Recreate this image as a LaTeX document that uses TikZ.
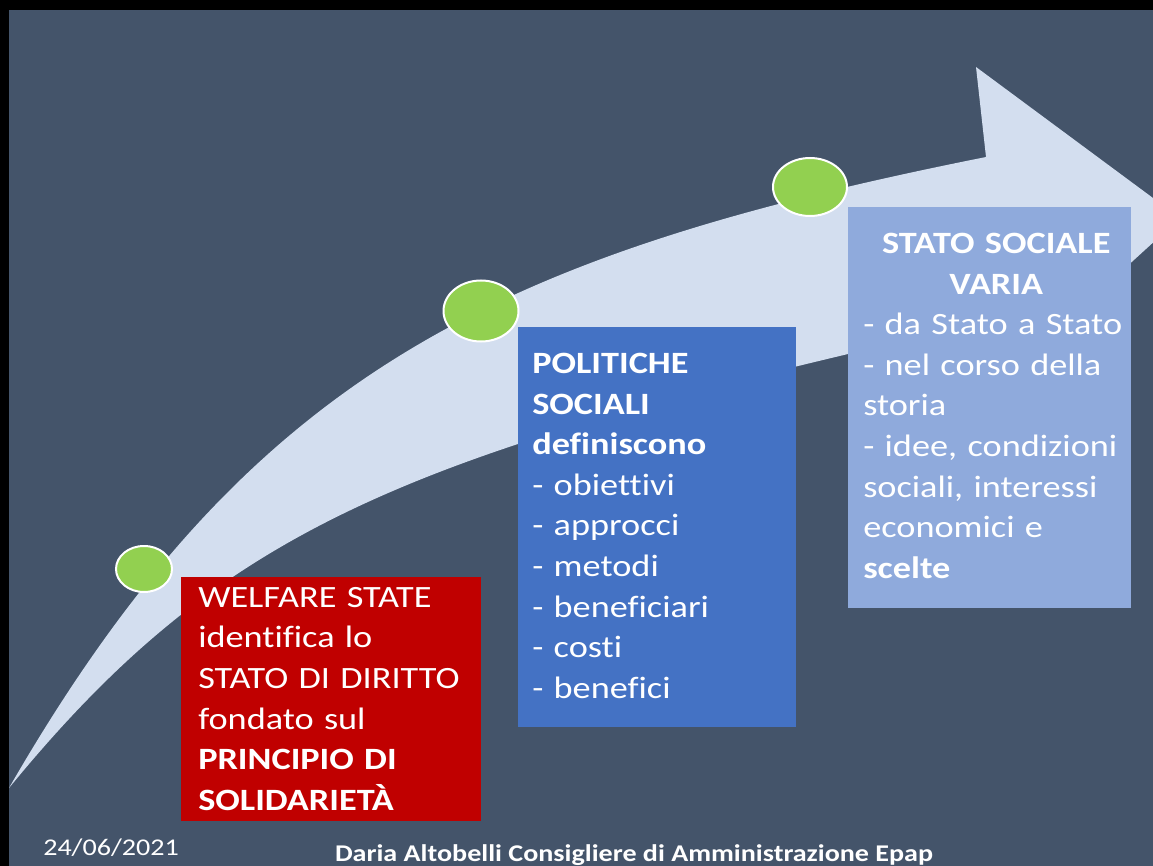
\documentclass[tikz,border=0pt]{standalone}
\usepackage{fontspec}
\setmainfont{Carlito}[FakeStretch=1.17, Ligatures=NoCommon]
\usetikzlibrary{shapes.geometric}
\definecolor{bg}{HTML}{44546A}
\definecolor{arrowfill}{HTML}{D3DEEF}
\definecolor{dotgreen}{HTML}{92D050}
\definecolor{boxred}{HTML}{C00000}
\definecolor{boxblue}{HTML}{4472C4}
\definecolor{boxlight}{HTML}{8FAADC}
\tikzset{
  dot/.style={ellipse, draw=white, line width=1.5pt, fill=dotgreen, inner sep=0pt},
  panel/.style={rectangle, inner sep=0pt, anchor=north west},
  paneltext/.style={anchor=north west, inner sep=0pt, text=white, align=left,
    font=\fontsize{23.25pt}{30.45pt}\selectfont},
  foot/.style={inner sep=0pt, text=white}
}
\begin{document}
\begin{tikzpicture}[x=0.75pt, y=-0.75pt]
  \useasboundingbox (0,0) rectangle (1153,866);
  \fill[black] (0,0) rectangle (1153,866);
  \fill[bg] (9,10) rectangle (1153,866);
  % curved arrow
  \begin{scope}
    \clip (9,10) rectangle (1153,866);
    \fill[arrowfill] (9,788) .. controls (249,372) and (496,255) .. (986,157)
      -- (976,67) -- (1180,218) -- (1010,373) -- (1004,318)
      .. controls (419,450) and (231,517) .. (9,788) -- cycle;
  \end{scope}
  % milestones
  \node[dot, minimum width=42pt, minimum height=34.5pt] (dot1) at (144,569) {};
  \node[dot, minimum width=56.25pt, minimum height=45.75pt] (dot2) at (481,311) {};
  \node[dot, minimum width=55.5pt, minimum height=43.5pt] (dot3) at (810,187) {};
  % panels
  \node[panel, fill=boxred, minimum width=225pt, minimum height=183pt] (welfare) at (181,577) {};
  \node[panel, fill=boxblue, minimum width=208.5pt, minimum height=300pt] (politiche) at (518,327) {};
  \node[panel, fill=boxlight, minimum width=212.25pt, minimum height=300.75pt] (stato) at (848,207) {};
  \node[paneltext, text width=212pt] (welfaretext) at (198,587)
    {WELFARE STATE\\identifica lo\\STATO DI DIRITTO\\fondato sul\\\textbf{PRINCIPIO DI}\\\textbf{SOLIDARIETÀ}};
  \node[paneltext, text width=195pt] (politichetext) at (532,353)
    {\textbf{POLITICHE}\\\textbf{SOCIALI}\\\textbf{definiscono}\\- obiettivi\\- approcci\\- metodi\\- beneficiari\\- costi\\- benefici};
  \node[paneltext, text width=199.5pt] (statotext) at (863,233)
    {\makebox[\linewidth][c]{\textbf{STATO SOCIALE}}\\\makebox[\linewidth][c]{\textbf{VARIA}}\\- da Stato a Stato\\- nel corso della\\storia\\- idee, condizioni\\sociali, interessi\\economici e\\\textbf{scelte}};
  % footer
  \node[foot, anchor=base west, font=\fontsize{18pt}{22pt}\selectfont] (date) at (43,855) {24/06/2021};
  \node[foot, anchor=base, font=\fontsize{18pt}{22pt}\selectfont\bfseries] (author) at (634,861)
    {Daria Altobelli Consigliere di Amministrazione Epap};
\end{tikzpicture}
\end{document}
